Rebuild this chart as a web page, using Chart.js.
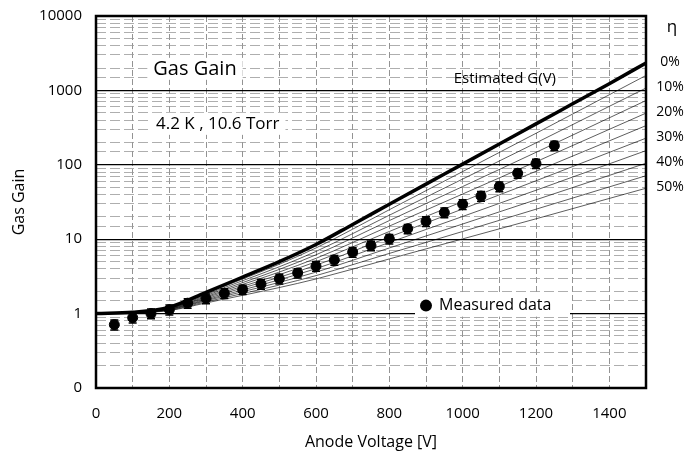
<!DOCTYPE html>
<html>
<head>
<meta charset="utf-8">
<script src="https://cdn.jsdelivr.net/npm/chart.js@4.4.1/dist/chart.umd.min.js"></script>
<style>
  html, body { margin: 0; padding: 0; background: #fff; }
  #wrap { width: 690px; height: 454px; }
</style>
</head>
<body>
<div id="wrap"><canvas id="gainChart"></canvas></div>
<script>
// Estimated G(V), thick curve
const gainVoltage = [0, 100, 200, 300, 400, 500, 600, 700, 800, 900, 1000, 1100, 1200, 1300, 1400, 1500];
const estimatedGain = [1.0, 1.04, 1.22, 1.93, 3.1, 5.0, 8.5, 15.8, 29.5, 55, 102, 190, 355, 660, 1230, 2340];

// thin lines for eta = 5% .. 50%
const etaVoltage = [0, 100, 200, 300, 400, 500, 600, 800, 1000, 1200, 1500];
const eta05 = [1, 1.04, 1.21, 1.87, 2.92, 4.61, 7.63, 24.9, 81.1, 265, 1588];
const eta10 = [1, 1.04, 1.19, 1.81, 2.77, 4.26, 6.85, 21.0, 64.3, 197, 1076];
const eta15 = [1, 1.03, 1.18, 1.75, 2.61, 3.93, 6.17, 17.8, 51.0, 147, 731];
const eta20 = [1, 1.03, 1.17, 1.69, 2.47, 3.62, 5.53, 15.0, 40.5, 110, 495];
const eta25 = [1, 1.03, 1.16, 1.64, 2.33, 3.34, 4.98, 12.7, 32.1, 81.8, 336];
const eta30 = [1, 1.03, 1.15, 1.58, 2.21, 3.08, 4.47, 10.7, 25.5, 61.0, 228];
const eta35 = [1, 1.03, 1.14, 1.53, 2.08, 2.85, 4.02, 9.03, 20.2, 45.5, 155];
const eta40 = [1, 1.02, 1.13, 1.49, 1.97, 2.63, 3.61, 7.62, 16.0, 33.9, 105];
const eta45 = [1, 1.02, 1.11, 1.44, 1.86, 2.42, 3.24, 6.44, 12.7, 25.3, 71.3];
const eta50 = [1, 1.02, 1.10, 1.39, 1.76, 2.24, 2.92, 5.43, 10.1, 18.8, 48.4];
const etaLines = [eta05, eta10, eta15, eta20, eta25, eta30, eta35, eta40, eta45, eta50];

// labels on the right side: 0% is the thick curve
const etaLabels = ['0%', '10%', '20%', '30%', '40%', '50%'];
const etaLabelSeries = [estimatedGain, eta10, eta20, eta30, eta40, eta50];

// measured points with error bars
const measVoltage = [50, 100, 150, 200, 250, 300, 350, 400, 450, 500, 550, 600, 650, 700, 750, 800, 850, 900, 950, 1000, 1050, 1100, 1150, 1200, 1250];
const measGain = [0.71, 0.88, 1.0, 1.13, 1.38, 1.6, 1.87, 2.1, 2.5, 2.93, 3.52, 4.35, 5.26, 6.7, 8.2, 10.1, 13.8, 17.4, 22.8, 29.5, 38, 51, 77, 104, 181];
const measErr = [0.11, 0.13, 0.15, 0.17, 0.2, 0.24, 0.28, 0.3, 0.37, 0.44, 0.5, 0.65, 0.8, 1.0, 1.2, 1.5, 2.0, 2.6, 3.4, 4.4, 5.7, 7.6, 11, 15, 27];

// y tick labels (bottom decade printed as "0" in the original)
const yTickValues = [0.1, 1, 10, 100, 1000, 10000];
const yTickLabels = ['0', '1', '10', '100', '1000', '10000'];

const FONT = '"Open Sans", "DejaVu Sans", sans-serif';

function pts(xs, ys) {
  return xs.map((x, i) => ({ x: x, y: ys[i] }));
}

function isDecade(v) {
  const l = Math.log10(v);
  return Math.abs(l - Math.round(l)) < 1e-6;
}

const datasets = [];
datasets.push({
  label: 'Estimated G(V)',
  data: pts(gainVoltage, estimatedGain),
  borderColor: '#000',
  borderWidth: 3.5,
  pointRadius: 0,
  cubicInterpolationMode: 'monotone',
  order: 1
});
etaLines.forEach((line, k) => {
  datasets.push({
    label: 'eta ' + ((k + 1) * 5) + '%',
    data: pts(etaVoltage, line),
    borderColor: 'rgba(0,0,0,0.8)',
    borderWidth: 0.8,
    pointRadius: 0,
    cubicInterpolationMode: 'monotone',
    order: 2
  });
});
datasets.push({
  label: 'Measured data',
  data: pts(measVoltage, measGain),
  showLine: false,
  pointRadius: 5,
  pointBackgroundColor: '#000',
  pointBorderColor: '#000',
  order: 0
});

// text boxes inside the plot
function textBox(ctx, text, x, y, font, pad) {
  ctx.font = font;
  const w = ctx.measureText(text).width;
  ctx.fillStyle = '#fff';
  ctx.fillRect(x - w / 2 - pad, y - 11, w + pad * 2, 22);
  ctx.fillStyle = '#000';
  ctx.textAlign = 'center';
  ctx.textBaseline = 'middle';
  ctx.fillText(text, x, y);
}

const decorations = {
  id: 'decorations',
  beforeDatasetsDraw(chart) {
    const ctx = chart.ctx;
    const xs = chart.scales.x, ys = chart.scales.y;
    ctx.save();
    textBox(ctx, 'Gas Gain', xs.getPixelForValue(270), ys.getPixelForValue(1950), '20px ' + FONT, 6);
    textBox(ctx, '4.2 K , 10.6 Torr', xs.getPixelForValue(332), ys.getPixelForValue(355), '17px ' + FONT, 6);
    // legend for measured data
    ctx.fillStyle = '#fff';
    ctx.fillRect(xs.getPixelForValue(870), ys.getPixelForValue(1.28) - 11, 155, 22);
    ctx.restore();
  },
  afterDatasetsDraw(chart) {
    const ctx = chart.ctx;
    const xs = chart.scales.x, ys = chart.scales.y;
    ctx.save();
    // error bars
    ctx.strokeStyle = '#000';
    ctx.lineWidth = 1.5;
    measVoltage.forEach((v, i) => {
      const px = xs.getPixelForValue(v);
      const hi = ys.getPixelForValue(measGain[i] + measErr[i]);
      const lo = ys.getPixelForValue(measGain[i] - measErr[i]);
      ctx.beginPath();
      ctx.moveTo(px, hi); ctx.lineTo(px, lo);
      ctx.moveTo(px - 4, hi); ctx.lineTo(px + 4, hi);
      ctx.moveTo(px - 4, lo); ctx.lineTo(px + 4, lo);
      ctx.stroke();
    });
    // legend entry
    const ly = ys.getPixelForValue(1.28);
    const lx = xs.getPixelForValue(900);
    ctx.fillStyle = '#000';
    ctx.beginPath();
    ctx.arc(lx, ly, 6, 0, Math.PI * 2);
    ctx.fill();
    ctx.font = '16px ' + FONT;
    ctx.textAlign = 'left';
    ctx.textBaseline = 'middle';
    ctx.fillText('Measured data', lx + 13, ly);
    // label of the thick curve
    ctx.font = '15px ' + FONT;
    ctx.textAlign = 'center';
    ctx.fillText('Estimated G(V)', xs.getPixelForValue(1115), ys.getPixelForValue(1450));
    ctx.restore();
  },
  afterDraw(chart) {
    const ctx = chart.ctx;
    const a = chart.chartArea;
    const ys = chart.scales.y;
    ctx.save();
    ctx.strokeStyle = '#000';
    ctx.lineWidth = 2.5;
    ctx.strokeRect(a.left, a.top, a.right - a.left, a.bottom - a.top);
    // eta labels on the right
    ctx.fillStyle = '#000';
    ctx.textAlign = 'center';
    ctx.textBaseline = 'middle';
    ctx.font = '17px ' + FONT;
    ctx.fillText('η', a.right + 26, a.top + 11);
    ctx.font = '14px ' + FONT;
    etaLabels.forEach((t, k) => {
      const s = etaLabelSeries[k];
      ctx.fillText(t, a.right + 24, ys.getPixelForValue(s[s.length - 1]) - 1);
    });
    ctx.restore();
  }
};

new Chart(document.getElementById('gainChart'), {
  type: 'line',
  data: { datasets: datasets },
  options: {
    responsive: true,
    maintainAspectRatio: false,
    animation: false,
    layout: { padding: { top: 16, right: 44, bottom: 0, left: 0 } },
    plugins: {
      legend: { display: false },
      tooltip: { enabled: false }
    },
    scales: {
      x: {
        type: 'linear',
        min: 0,
        max: 1500,
        afterFit(scale) {
          scale.height = 66;
          scale.paddingLeft = 0;
          scale.paddingRight = 0;
        },
        ticks: {
          stepSize: 100,
          padding: 17,
          color: '#000',
          font: { family: FONT, size: 15 },
          maxRotation: 0,
          autoSkip: false,
          callback: v => (v % 200 === 0 ? String(v) : '')
        },
        grid: { color: '#777', lineWidth: 0.8, drawTicks: false },
        border: { display: false, dash: [6, 3] },
        title: {
          display: true,
          text: 'Anode Voltage [V]',
          color: '#000',
          font: { family: FONT, size: 16 },
          padding: { top: 0, bottom: 2 }
        }
      },
      y: {
        type: 'logarithmic',
        min: 0.1,
        max: 10000,
        afterFit(scale) {
          scale.width = 96;
          scale.paddingTop = 0;
          scale.paddingBottom = 0;
        },
        ticks: {
          padding: 14,
          color: '#000',
          autoSkip: false,
          font: { family: FONT, size: 15 },
          callback: v => {
            const k = yTickValues.findIndex(t => Math.abs(t - v) / t < 1e-6);
            return k >= 0 ? yTickLabels[k] : '';
          }
        },
        grid: {
          drawTicks: false,
          color: c => (c.tick && isDecade(c.tick.value) ? '#000' : '#999'),
          lineWidth: c => (c.tick && isDecade(c.tick.value) ? 1.2 : 0.8)
        },
        border: {
          display: false,
          dash: c => (c.tick && !isDecade(c.tick.value) ? [10, 4] : [])
        },
        title: {
          display: true,
          text: 'Gas Gain',
          color: '#000',
          font: { family: FONT, size: 16 },
          padding: { top: 10, bottom: 0 }
        }
      }
    }
  },
  plugins: [decorations]
});
</script>
</body>
</html>
